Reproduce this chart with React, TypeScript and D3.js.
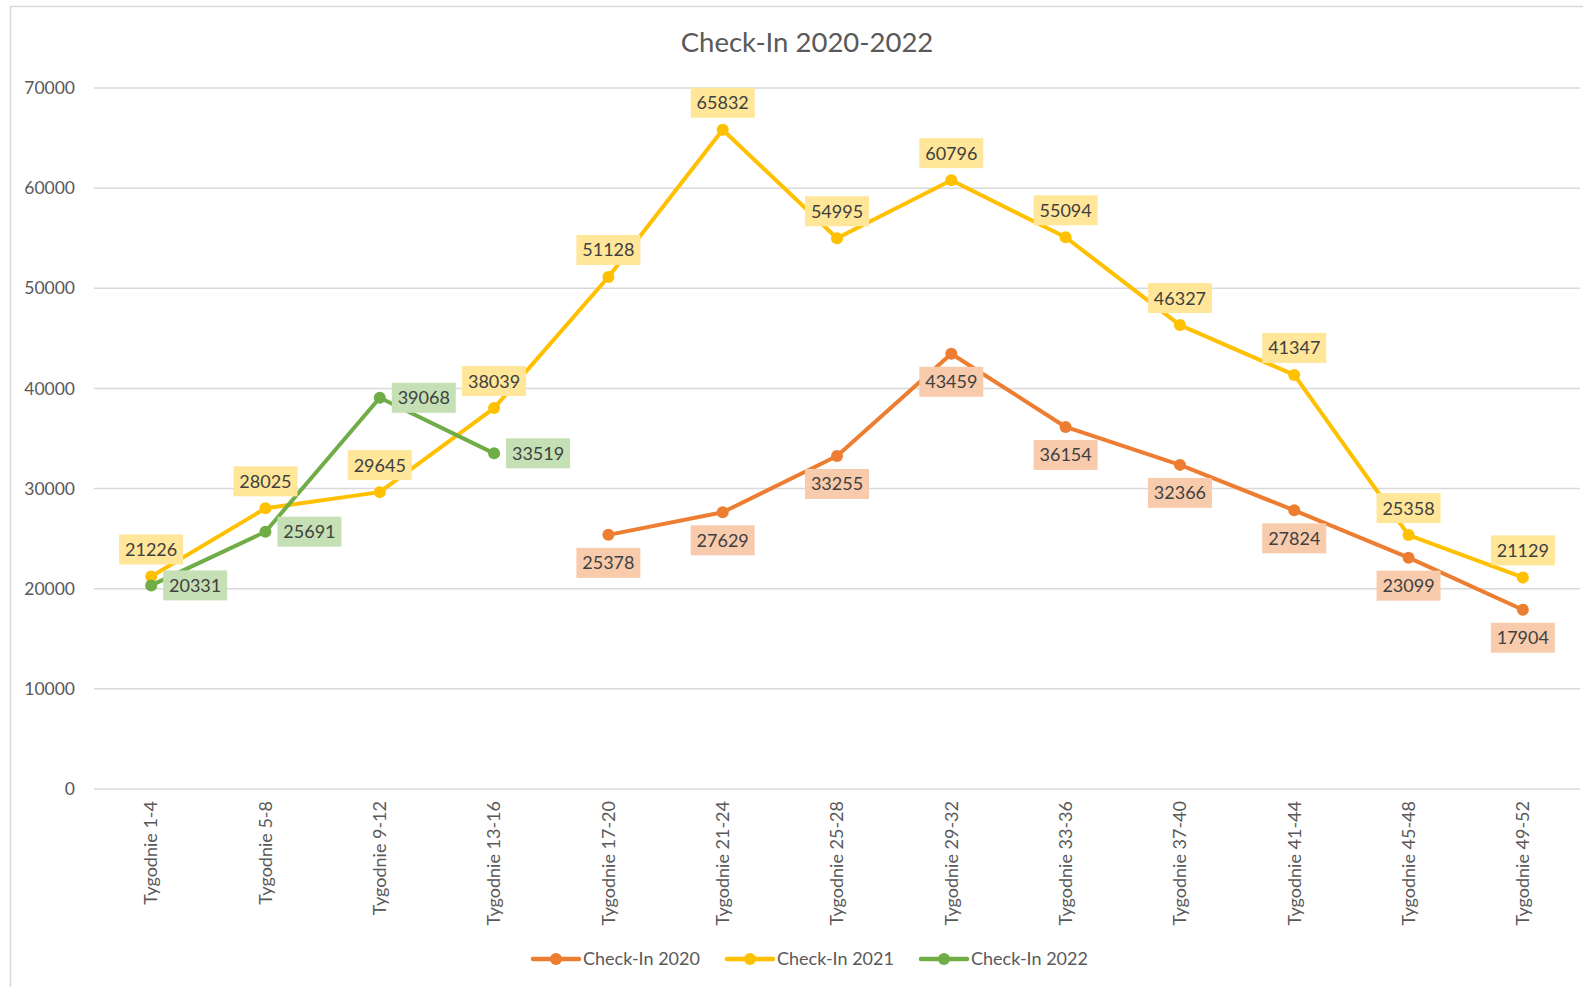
import React from "react";
import * as d3 from "d3";

const categories = [
  "Tygodnie 1-4", "Tygodnie 5-8", "Tygodnie 9-12", "Tygodnie 13-16",
  "Tygodnie 17-20", "Tygodnie 21-24", "Tygodnie 25-28", "Tygodnie 29-32",
  "Tygodnie 33-36", "Tygodnie 37-40", "Tygodnie 41-44", "Tygodnie 45-48",
  "Tygodnie 49-52",
];

const checkIn2020: (number | null)[] = [
  null, null, null, null, 25378, 27629, 33255, 43459, 36154, 32366, 27824, 23099, 17904,
];
const checkIn2021: (number | null)[] = [
  21226, 28025, 29645, 38039, 51128, 65832, 54995, 60796, 55094, 46327, 41347, 25358, 21129,
];
const checkIn2022: (number | null)[] = [
  20331, 25691, 39068, 33519, null, null, null, null, null, null, null, null, null,
];

const yTicks = [0, 10000, 20000, 30000, 40000, 50000, 60000, 70000];

const seriesNames = ["Check-In 2020", "Check-In 2021", "Check-In 2022"];

const W = 1583;
const H = 987;
const FONT = "Lato, 'Open Sans', sans-serif";

type Series = {
  name: string;
  values: (number | null)[];
  color: string;
  labelFill: string;
  labelPos: "above" | "below" | "right";
};

const series: Series[] = [
  { name: seriesNames[0], values: checkIn2020, color: "#ED7D31", labelFill: "#F8CBAD", labelPos: "below" },
  { name: seriesNames[1], values: checkIn2021, color: "#FFC000", labelFill: "#FFE699", labelPos: "above" },
  { name: seriesNames[2], values: checkIn2022, color: "#70AD47", labelFill: "#C5E0B4", labelPos: "right" },
];

export default function App() {
  const x = d3.scalePoint<string>().domain(categories).range([94, 1580]).padding(0.5);
  const y = d3.scaleLinear().domain([0, 70000]).range([789, 88]);

  const line = d3
    .line<number | null>()
    .defined((d) => d !== null)
    .x((_, i) => x(categories[i]) as number)
    .y((d) => y(d as number));

  const labelW = 64;
  const labelH = 30;

  const legendItems = [
    { x: 533, s: series[0] },
    { x: 727, s: series[1] },
    { x: 921, s: series[2] },
  ];

  return (
    <svg
      width={W}
      height={H}
      style={{ position: "absolute", left: 0, top: 0, background: "#fff" }}
      fontFamily={FONT}
    >
      <rect x={0} y={0} width={W} height={H} fill="#fff" />
      <rect x={10.5} y={6.5} width={1700} height={1100} fill="#fff" stroke="#D9D9D9" strokeWidth={1.5} />

      <text x={807} y={52} textAnchor="middle" fontSize={27.5} fill="#595959">
        Check-In 2020-2022
      </text>

      {yTicks.map((t) => (
        <g key={t}>
          <line x1={94} x2={1580} y1={y(t)} y2={y(t)} stroke="#D9D9D9" strokeWidth={1.5} />
          <text x={75} y={y(t)} dy="0.35em" textAnchor="end" fontSize={17.5} fill="#595959">
            {t}
          </text>
        </g>
      ))}

      {categories.map((c) => (
        <text
          key={c}
          transform={`translate(${x(c)},801) rotate(-90)`}
          textAnchor="end"
          dy="0.35em"
          fontSize={18}
          fill="#595959"
        >
          {c}
        </text>
      ))}

      {series.map((s) => (
        <g key={s.name}>
          <path d={line(s.values) || ""} fill="none" stroke={s.color} strokeWidth={4} strokeLinejoin="round" strokeLinecap="round" />
          {s.values.map((v, i) =>
            v === null ? null : (
              <circle key={i} cx={x(categories[i])} cy={y(v)} r={6} fill={s.color} />
            )
          )}
        </g>
      ))}

      {series.map((s) => (
        <g key={s.name + "-labels"}>
          {s.values.map((v, i) => {
            if (v === null) return null;
            const px = x(categories[i]) as number;
            const py = y(v);
            let cx = px;
            let cy = py;
            if (s.labelPos === "above") cy = py - 12 - labelH / 2;
            else if (s.labelPos === "below") cy = py + 13 + labelH / 2;
            else cx = px + 12 + labelW / 2;
            return (
              <g key={i}>
                <rect x={cx - labelW / 2} y={cy - labelH / 2} width={labelW} height={labelH} fill={s.labelFill} />
                <text x={cx} y={cy} dy="0.36em" textAnchor="middle" fontSize={18} fill="#404040">
                  {v}
                </text>
              </g>
            );
          })}
        </g>
      ))}

      {legendItems.map((it) => (
        <g key={it.s.name}>
          <line x1={it.x} x2={it.x + 46} y1={959} y2={959} stroke={it.s.color} strokeWidth={4.5} strokeLinecap="round" />
          <circle cx={it.x + 23} cy={959} r={6} fill={it.s.color} />
          <text x={it.x + 50} y={959} dy="0.35em" fontSize={18} fill="#595959">
            {it.s.name}
          </text>
        </g>
      ))}
    </svg>
  );
}
